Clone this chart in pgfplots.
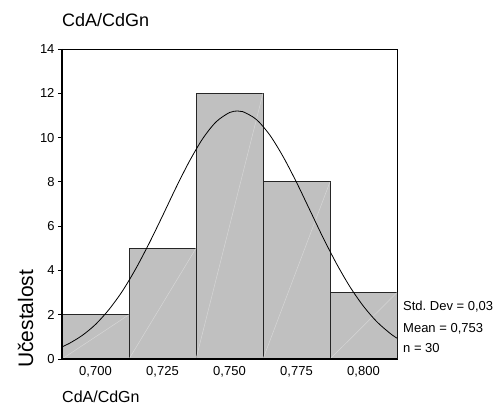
\documentclass[border=0pt]{standalone}
\usepackage{pgfplots}
\pgfplotsset{compat=1.18}
\usepackage{fontspec}
\setmainfont{Liberation Sans}
\definecolor{barfill}{HTML}{C0C0C0}
\definecolor{diag}{HTML}{D6D6D6}
\newcommand{\fs}[1]{\fontsize{#1bp}{#1bp}\selectfont}

\begin{document}
\begin{tikzpicture}
\useasboundingbox (-62bp,-46bp) rectangle (435bp,359bp);
\begin{axis}[
    name=ax, at={(0,0)}, anchor=south west,
    scale only axis, width=335bp, height=310bp,
    xmin=0.6875, xmax=0.8125,
    ymin=0, ymax=14,
    xtick={0.700,0.725,0.750,0.775,0.800},
    ytick={0,2,4,6,8,10,12,14},
    scaled x ticks=false,
    tick align=outside,
    major tick length=4bp,
    xtick style={draw=none},
    ytick style={black, line width=0.8bp},
    ytick pos=left,
    /pgf/number format/assume math mode=true,
    tick label style={font=\fs{13}},
    xticklabel style={/pgf/number format/.cd, fixed, fixed zerofill, precision=3, use comma},
    axis line style={black, line width=0.6bp},
    unbounded coords=jump,
]
% histogram: left edges with counts, last point closes the interval
\addplot[ybar interval, fill=barfill, draw=black!85, line width=0.9bp] coordinates {
  (0.6875,2) (0.7125,5) (0.7375,12) (0.7625,8) (0.7875,3) (0.8125,3)
};
% faint diagonals inside the bars
\addplot[diag, line width=0.5bp] coordinates {
  (0.6875,0) (0.7125,2) (nan,nan)
  (0.7125,0) (0.7375,5) (nan,nan)
  (0.7375,0) (0.7625,12) (nan,nan)
  (0.7625,0) (0.7875,8) (nan,nan)
  (0.7875,0) (0.8125,3)
};
% normal curve (Mean = 0,753)
\addplot[black, line width=0.8bp, smooth] coordinates {
  (0.6875,0.55) (0.690,0.69) (0.695,1.06) (0.700,1.56) (0.705,2.23)
  (0.710,3.06) (0.715,4.07) (0.720,5.22) (0.725,6.46) (0.730,7.73)
  (0.735,8.92) (0.740,9.95) (0.745,10.71) (0.750,11.13) (0.753,11.20)
  (0.755,11.17) (0.760,10.82) (0.765,10.12) (0.770,9.14) (0.775,7.98)
  (0.780,6.72) (0.785,5.46) (0.790,4.29) (0.795,3.25) (0.800,2.38)
  (0.805,1.68) (0.810,1.15) (0.8125,0.94)
};
\end{axis}
\draw[black, line width=1.6bp] (ax.north west) -- (ax.south west) -- (ax.south east);
\node[anchor=base west, font=\fs{18}, inner sep=0pt] at ([yshift=22bp]ax.north west) {CdA/CdGn};
\node[anchor=base west, font=\fs{16}, inner sep=0pt] at ([yshift=-43bp]ax.south west) {CdA/CdGn};
\node[rotate=90, anchor=base west, font=\fs{21}, inner sep=0pt] at ([xshift=-29bp,yshift=-9bp]ax.south west) {Učestalost};
\node[anchor=base west, font=\fs{13}, inner sep=0pt] at ([xshift=6bp,yshift=48bp]ax.south east) {Std.\ Dev = 0,03};
\node[anchor=base west, font=\fs{13}, inner sep=0pt] at ([xshift=6bp,yshift=27bp]ax.south east) {Mean = 0,753};
\node[anchor=base west, font=\fs{13}, inner sep=0pt] at ([xshift=6bp,yshift=7bp]ax.south east) {n = 30};
\end{tikzpicture}
\end{document}
